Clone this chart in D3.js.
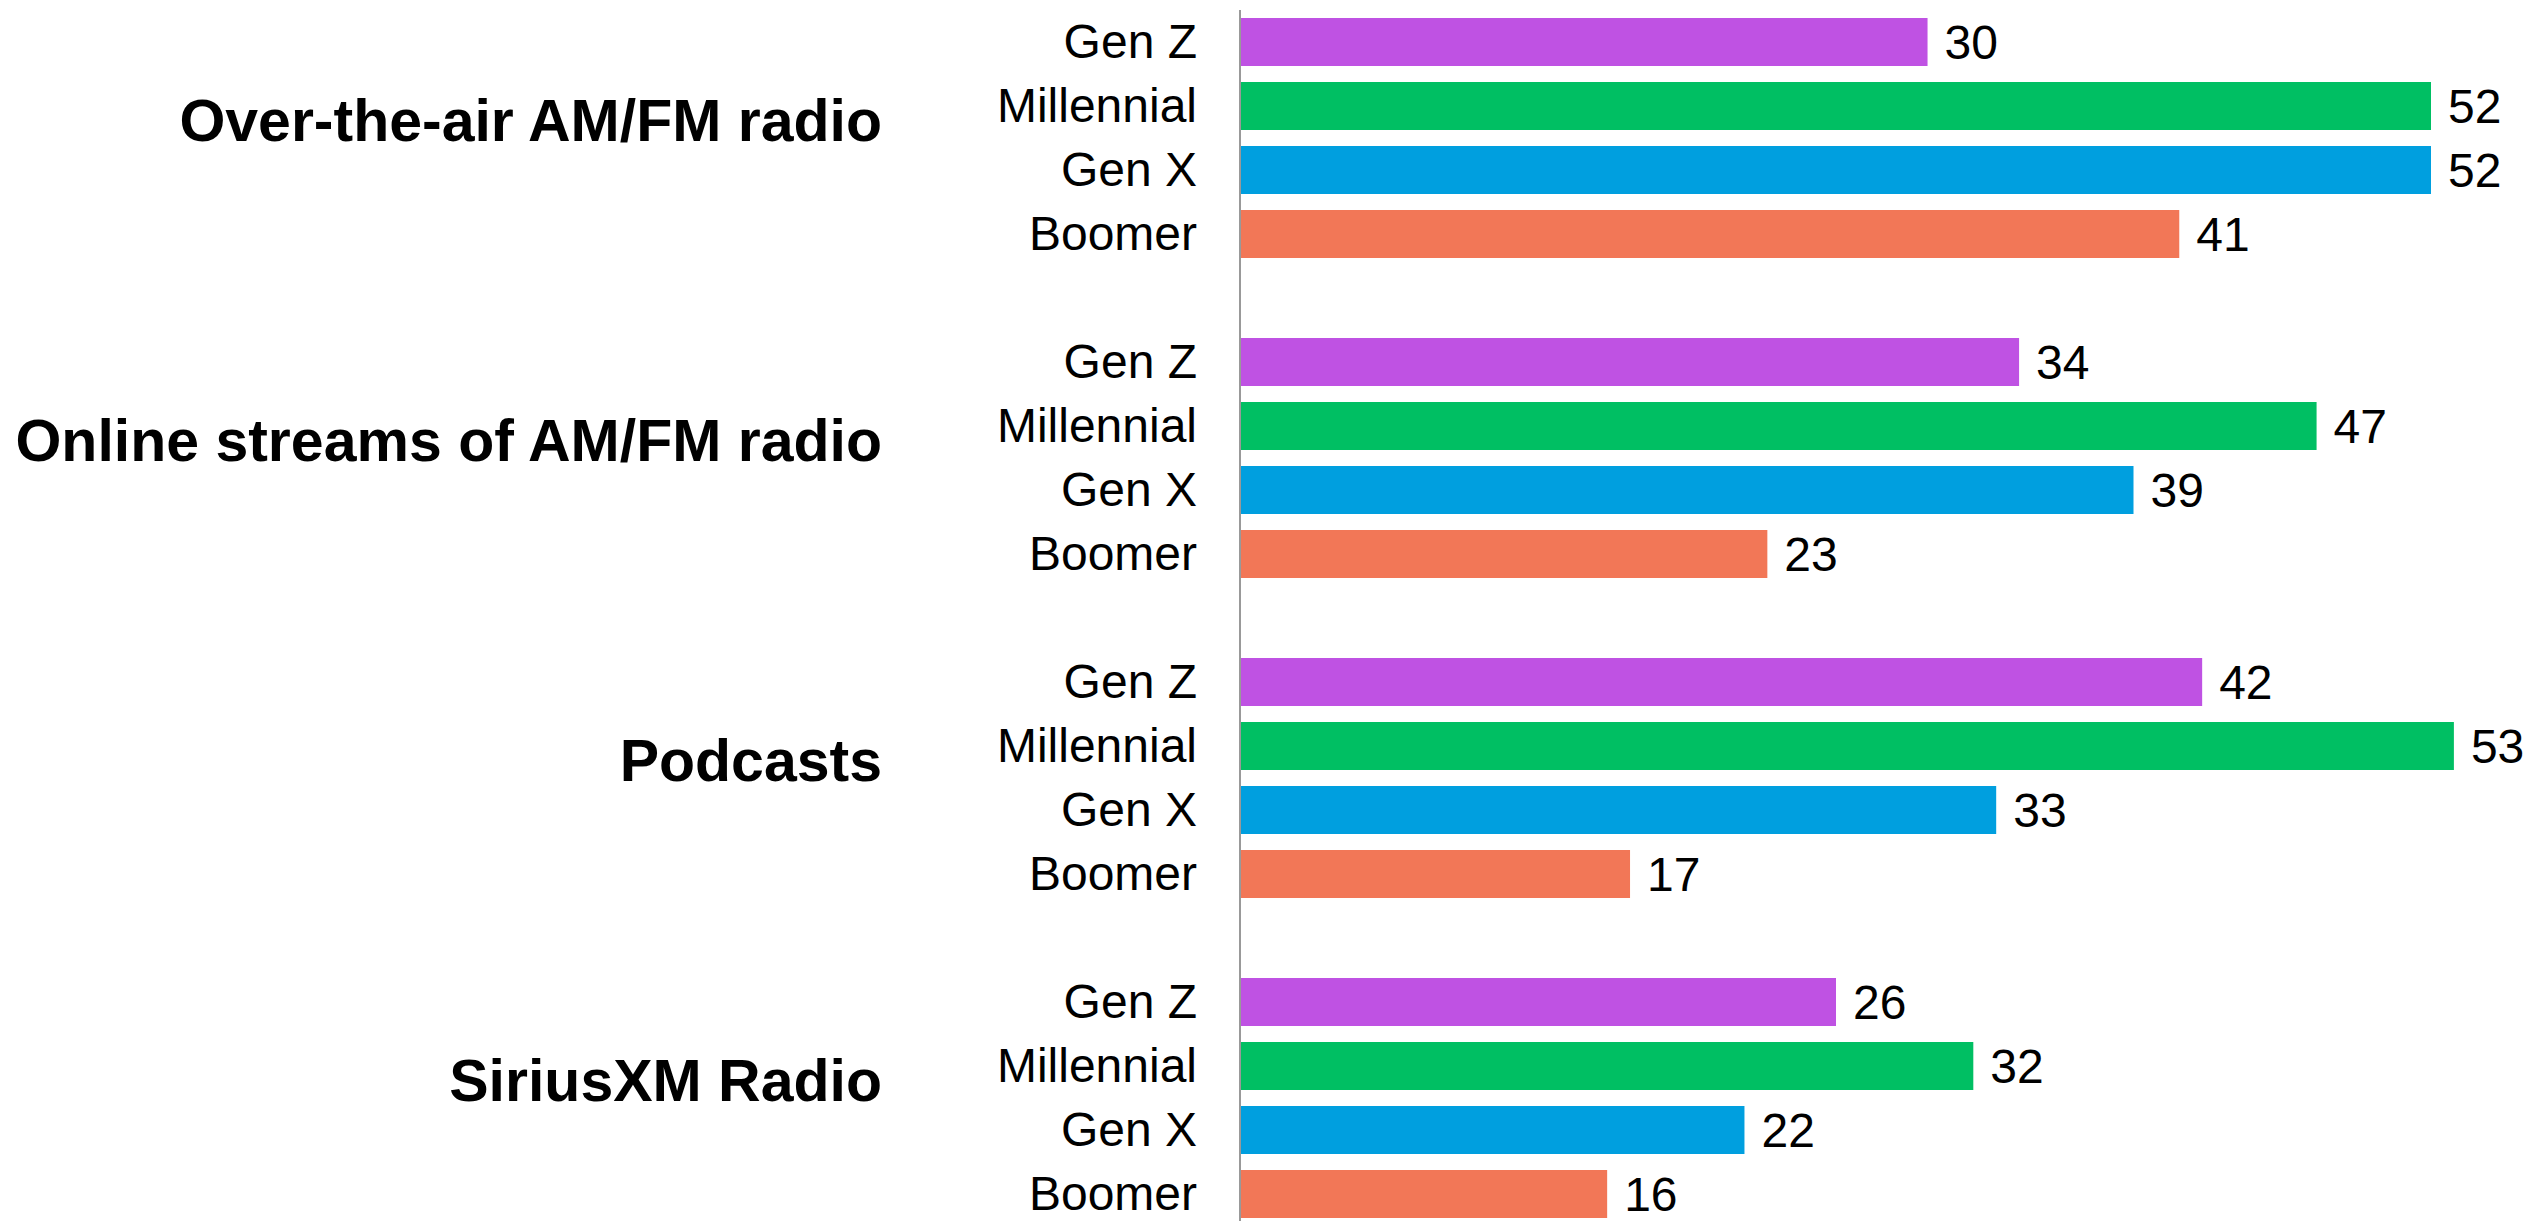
<!DOCTYPE html>
<html>
<head>
<meta charset="utf-8">
<script src="https://cdn.jsdelivr.net/npm/d3@7"></script>
<style>
  body { margin: 0; background: #fff; }
  svg { display: block; font-family: "Liberation Sans", Arial, sans-serif; }
</style>
</head>
<body>
<script>
// Categories and series
const media = ["Over-the-air AM/FM radio", "Online streams of AM/FM radio", "Podcasts", "SiriusXM Radio"];
const generations = ["Gen Z", "Millennial", "Gen X", "Boomer"];
const genZ = [30, 34, 42, 26];
const millennial = [52, 47, 53, 32];
const genX = [52, 39, 33, 22];
const boomer = [41, 23, 17, 16];
const colors = ["#BF52E3", "#00BF63", "#009FDF", "#F27757"];

const width = 2536, height = 1221;
const axisX = 1240;

const series = [genZ, millennial, genX, boomer];
const rows = [];
media.forEach((m, gi) => {
    generations.forEach((g, si) => {
        rows.push({ media: m, gen: g, value: series[si][gi], color: colors[si] });
    });
});

const svg = d3.select("body").append("svg")
    .attr("width", width)
    .attr("height", height);

const x = d3.scaleLinear()
    .domain([0, 52])
    .range([axisX + 1, 2431]);

const yGroup = d3.scaleBand()
    .domain(media)
    .range([10, 1290]);

const yInner = d3.scaleBand()
    .domain(generations)
    .range([0, yGroup.bandwidth() - 64])
    .paddingInner(0.25)
    .paddingOuter(0.125);

const groups = svg.selectAll(".group")
    .data(media)
    .enter()
    .append("g")
    .attr("class", "group")
    .attr("transform", d => `translate(0, ${yGroup(d)})`);

// bars
groups.selectAll("rect")
    .data(m => rows.filter(r => r.media === m))
    .enter()
    .append("rect")
    .attr("x", x(0))
    .attr("y", d => yInner(d.gen))
    .attr("width", d => x(d.value) - x(0))
    .attr("height", yInner.bandwidth())
    .attr("fill", d => d.color);

// value labels
groups.selectAll(".val")
    .data(m => rows.filter(r => r.media === m))
    .enter()
    .append("text")
    .attr("class", "val")
    .attr("x", d => x(d.value) + 17)
    .attr("y", d => yInner(d.gen) + yInner.bandwidth() / 2)
    .attr("dy", "0.36em")
    .attr("font-size", 48)
    .attr("fill", "#000")
    .text(d => d.value);

// generation labels
groups.selectAll(".gen")
    .data(generations)
    .enter()
    .append("text")
    .attr("class", "gen")
    .attr("x", axisX - 43)
    .attr("y", d => yInner(d) + yInner.bandwidth() / 2)
    .attr("dy", "0.34em")
    .attr("text-anchor", "end")
    .attr("font-size", 48)
    .attr("fill", "#000")
    .text(d => d);

// media titles
groups.append("text")
    .attr("x", 882)
    .attr("y", (yGroup.bandwidth() - 64) / 2 + 8 - 5)
    .attr("text-anchor", "end")
    .attr("font-size", 59)
    .attr("font-weight", "bold")
    .attr("fill", "#000")
    .text(d => d);

// vertical axis line
svg.append("line")
    .attr("x1", axisX)
    .attr("x2", axisX)
    .attr("y1", 10)
    .attr("y2", height)
    .attr("stroke", "#999")
    .attr("stroke-width", 2);
</script>
</body>
</html>
